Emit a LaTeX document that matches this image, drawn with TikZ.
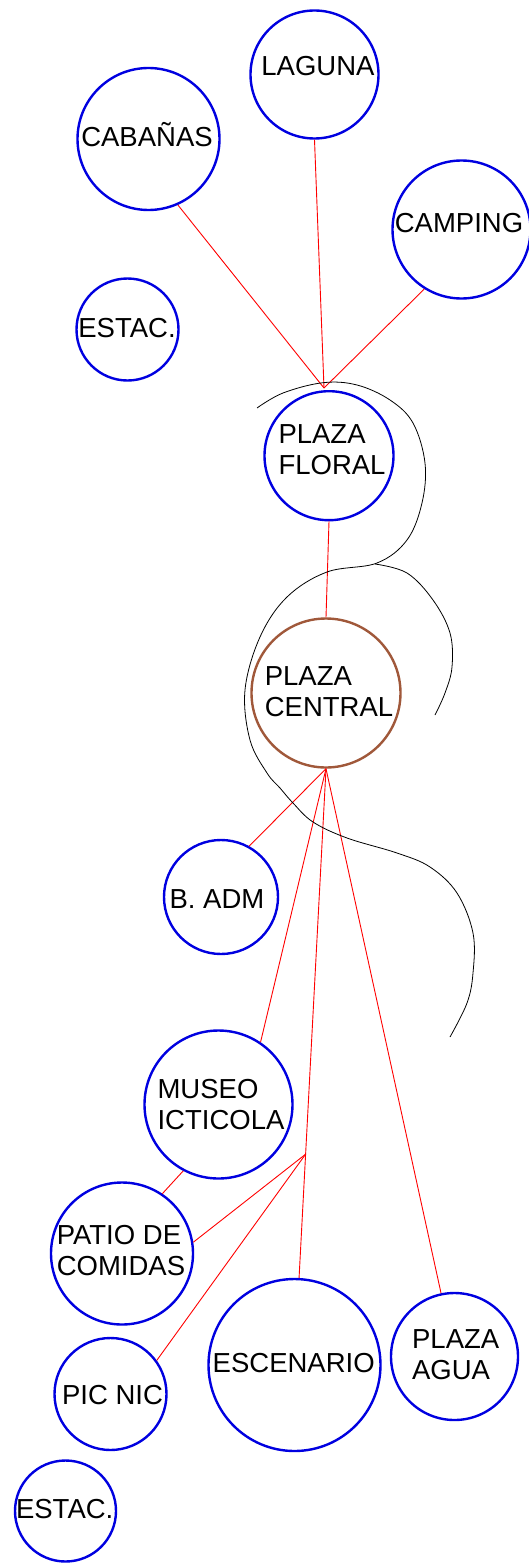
\documentclass[tikz,border=0pt]{standalone}
\usepackage{fontspec}
\setmainfont{Liberation Sans}
\usetikzlibrary{calc}
\definecolor{zona}{HTML}{0000E0}
\definecolor{plaza}{HTML}{A0583A}
\definecolor{senda}{HTML}{FF0000}
\tikzset{area/.style={circle, draw=zona, line width=2.4pt, inner sep=0pt},
         rotulo/.style={font=\fontsize{27.5}{31}\selectfont, inner sep=0pt, align=left},
         uno/.style={text height=19.7pt, text depth=0pt},
         enlace/.style={senda, line width=0.9pt},
         borde/.style={black, line width=0.8pt}}

\begin{document}
\begin{tikzpicture}[x=1pt,y=-1pt]
\useasboundingbox (0,0) rectangle (528,1568);
% areas
\node[area, minimum size=128pt] (laguna) at (314.5,74.5) {};
\node[area, minimum size=142pt] (cabanas) at (148.5,139) {};
\node[area, minimum size=138pt] (camping) at (461.5,229.5) {};
\node[area, minimum size=102pt] (estacN) at (127.5,329.5) {};
\node[area, minimum size=129pt] (floral) at (329,455.7) {};
\node[area, draw=plaza, minimum size=149pt] (central) at (326,693) {};
\node[area, minimum size=114pt] (badm) at (221,897) {};
\node[area, minimum size=148pt] (museo) at (218.5,1104.5) {};
\node[area, minimum size=142pt] (patio) at (122,1253.5) {};
\node[area, minimum size=112pt] (picnic) at (110.5,1394) {};
\node[area, minimum size=172pt] (escenario) at (294.5,1365) {};
\node[area, minimum size=127pt] (agua) at (454.5,1356.5) {};
\node[area, minimum size=101pt] (estacS) at (65.5,1511) {};
% rotulos
\node[rotulo, uno] (laguna-t) at (318,65.5) {LAGUNA};
\node[rotulo, uno] (cabanas-t) at (147,136.7) {CABAÑAS};
\node[rotulo, uno] (camping-t) at (459,223) {CAMPING};
\node[rotulo, uno] (estacN-t) at (127,327.5) {ESTAC.};
\node[rotulo] (floral-t) at (332,450) {PLAZA\\FLORAL};
\node[rotulo] (central-t) at (329,692) {PLAZA\\CENTRAL};
\node[rotulo, uno] (badm-t) at (217,898.5) {B. ADM};
\node[rotulo] (museo-t) at (221,1105) {MUSEO\\ICTICOLA};
\node[rotulo] (patio-t) at (121,1251) {PATIO DE\\COMIDAS};
\node[rotulo, uno] (picnic-t) at (112.5,1394.5) {PIC NIC};
\node[rotulo, uno] (escenario-t) at (293.7,1362.7) {ESCENARIO};
\node[rotulo] (agua-t) at (455.7,1355) {PLAZA\\AGUA};
\node[rotulo, uno] (estacS-t) at (64.7,1508.5) {ESTAC.};
% sendas
\coordinate (nudoN) at (324,388);
\coordinate (nudoS) at ($(central.south)!0.757!(escenario.87)$);
\foreach \a in {cabanas.-66, laguna.south, camping.-122} {\draw[enlace] (\a) -- (nudoN);}
\draw[enlace] (floral.south) -- (central.north);
\foreach \a in {badm.61, museo.56, escenario.87, agua.102} {\draw[enlace] (central.south) -- (\a);}
\foreach \a in {patio.9, picnic.36} {\draw[enlace] (nudoS) -- (\a);}
\draw[enlace] (museo.-118) -- (patio.56);
% bordes
\draw[borde] plot[smooth, tension=0.6] coordinates {(257,408) (283,393) (323,382.7) (357,385) (390,400) (413,423) (425,463) (422,503) (407,540) (377,563) (327,572) (287,597) (260,637) (245,690) (250,740) (267,773) (280,788) (293,803) (313,822) (347,838) (397,853) (430,867) (457,893) (473,933) (473,973) (467,1003) (450,1037)};
\draw[borde] plot[smooth, tension=0.6] coordinates {(375,564) (407,573) (433,600) (450,633) (452,667) (445,693) (435,715)};
\end{tikzpicture}
\end{document}
